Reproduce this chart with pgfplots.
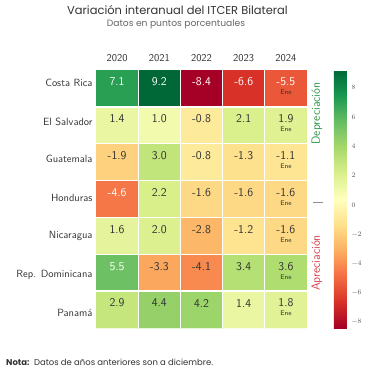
\documentclass[border=0pt]{standalone}
\usepackage{fontspec}
\usepackage{pgfplots}
\pgfplotsset{compat=1.18}
\newfontfamily\titlefont{Poppins}
\definecolor{txt}{HTML}{333333}
\definecolor{depc}{RGB}{46,150,74}
\definecolor{apc}{RGB}{214,62,72}
\pgfplotstableread{
x y v
0 0 7.1
1 0 9.2
2 0 -8.4
3 0 -6.6
4 0 -5.5
0 1 1.4
1 1 1.0
2 1 -0.8
3 1 2.1
4 1 1.9
0 2 -1.9
1 2 3.0
2 2 -0.8
3 2 -1.3
4 2 -1.1
0 3 -4.6
1 3 2.2
2 3 -1.6
3 3 -1.6
4 3 -1.6
0 4 1.6
1 4 2.0
2 4 -2.8
3 4 -1.2
4 4 -1.6
0 5 5.5
1 5 -3.3
2 5 -4.1
3 5 3.4
4 5 3.6
0 6 2.9
1 6 4.4
2 6 4.2
3 6 1.4
4 6 1.8
}\heat
\pgfplotstableread{
x y l
0 1 1.4
1 1 1.0
2 1 -0.8
3 1 2.1
4 1 1.9
0 2 -1.9
1 2 3.0
2 2 -0.8
3 2 -1.3
4 2 -1.1
1 3 2.2
2 3 -1.6
3 3 -1.6
4 3 -1.6
0 4 1.6
1 4 2.0
2 4 -2.8
3 4 -1.2
4 4 -1.6
1 5 -3.3
2 5 -4.1
3 5 3.4
4 5 3.6
0 6 2.9
1 6 4.4
2 6 4.2
3 6 1.4
4 6 1.8
}\darklab
\pgfplotstableread{
x y l
0 0 7.1
1 0 9.2
2 0 -8.4
3 0 -6.6
4 0 -5.5
0 3 -4.6
0 5 5.5
}\lightlab
\begin{document}
\begin{tikzpicture}[x=1bp,y=1bp]
\path[use as bounding box] (0,0) rectangle (380,380);
\begin{axis}[
  at={(96bp,52bp)}, anchor=south west,
  width=211bp, height=258bp, scale only axis,
  xmin=-0.5, xmax=4.5, ymin=-0.5, ymax=6.5, y dir=reverse,
  xtick={0,1,2,3,4}, xticklabels={2020,2021,2022,2023,2024},
  xticklabel pos=right,
  ytick={-0.14,0.91,1.91,2.97,4.0,5.06,6.09},
  yticklabels={Costa Rica,El Salvador,Guatemala,Honduras,Nicaragua,Rep.\hspace{0.45em}Dominicana,Panamá},
  tick style={draw=none},
  axis line style={draw=none},
  tick label style={font=\sffamily\fontsize{10.5}{12}\selectfont, text=txt},
  x tick label style={yshift=5bp},
  minor xtick={0.5,1.5,2.5,3.5}, minor ytick={0.5,1.5,2.5,3.5,4.5,5.5},
  xminorgrids, yminorgrids,
  minor grid style={white, line width=1.3bp},
  axis on top,
  colormap={rdylgn}{rgb255=(165,0,38) rgb255=(215,48,39) rgb255=(244,109,67) rgb255=(253,174,97) rgb255=(254,224,139) rgb255=(255,255,191) rgb255=(217,239,139) rgb255=(166,217,106) rgb255=(102,189,99) rgb255=(26,152,80) rgb255=(0,104,55)},
  point meta min=-8.4, point meta max=9.2,
  colorbar,
  colorbar shift/.style={xshift=27bp},
  colorbar style={
    at={(parent axis.north east)}, anchor=north west,
    width=13bp,
    y dir=normal,
    ytick={-8,-6,-4,-2,0,2,4,6,8},
    minor ytick={}, minor xtick={},
    xminorgrids=false, yminorgrids=false,
    yticklabel pos=right,
    tick style={draw=none},
    axis line style={draw=none},
    yticklabel style={font=\fontsize{7}{8}\selectfont, text=black!65, xshift=1bp},
  },
]
\addplot[matrix plot*, mesh/cols=5, point meta=explicit] table[x=x, y=y, meta=v] {\heat};
\addplot[draw=none, mark=none, nodes near coords, point meta=explicit symbolic,
  nodes near coords style={anchor=center, yshift=6.5bp, font=\sffamily\fontsize{12}{13}\selectfont, text=txt}]
  table[x=x, y=y, meta=l] {\darklab};
\addplot[draw=none, mark=none, nodes near coords, point meta=explicit symbolic,
  nodes near coords style={anchor=center, yshift=6.5bp, font=\sffamily\fontsize{12}{13}\selectfont, text=white}]
  table[x=x, y=y, meta=l] {\lightlab};
\addplot[draw=none, mark=none, nodes near coords={Ene},
  nodes near coords style={anchor=center, yshift=-4bp, font=\sffamily\fontsize{6.8}{7}\selectfont, text=txt}]
  coordinates {(4,0) (4,1) (4,2) (4,3) (4,4) (4,5) (4,6)};
\end{axis}
\node[font=\titlefont\fontsize{11.5}{13}\selectfont, text=txt] at (177.5,370) {Variación interanual del ITCER Bilateral};
\node[font=\titlefont\fontsize{9.2}{10}\selectfont, text=black!60] at (176,356) {Datos en puntos porcentuales};
\node[anchor=west, font=\titlefont\fontsize{8.5}{10}\selectfont, text=txt, inner sep=0pt] at (6,18) {\textbf{Nota:}\ \ Datos de años anteriores son a diciembre.};
\node[rotate=90, font=\sffamily\fontsize{12}{13}\selectfont, text=depc] at (317,266.5) {Depreciación};
\node[rotate=90, font=\sffamily\fontsize{12}{13}\selectfont, text=apc] at (317,117) {Apreciación};
\draw[black!45, line width=0.6bp] (313,178) -- (323,178);
\end{tikzpicture}
\end{document}
